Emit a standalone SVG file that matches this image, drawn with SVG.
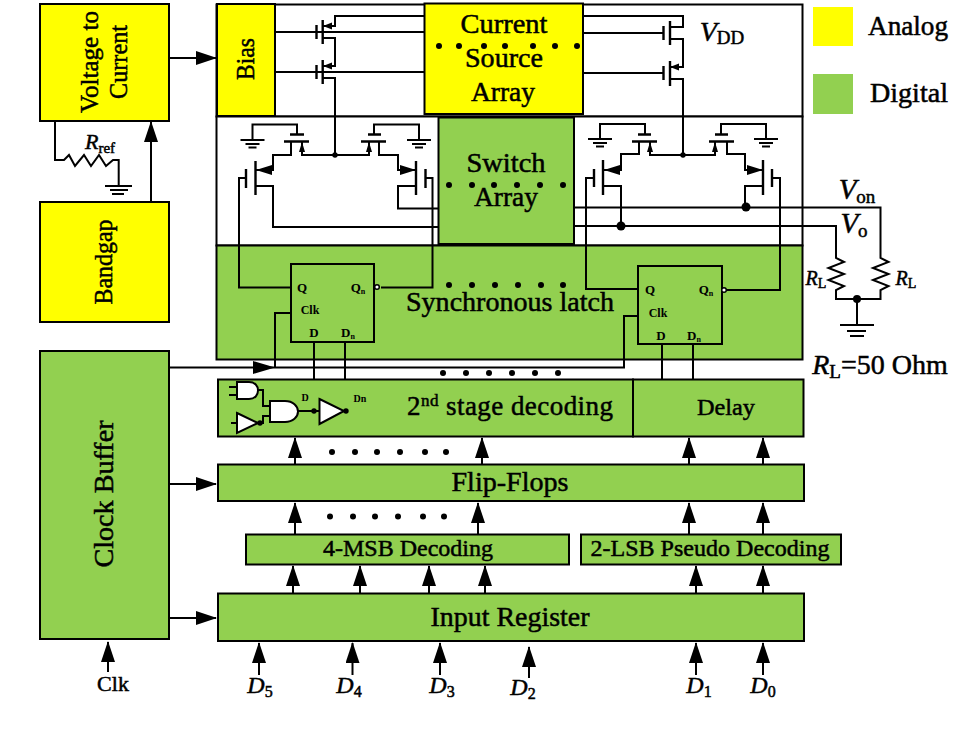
<svg xmlns="http://www.w3.org/2000/svg" width="959" height="729" viewBox="0 0 959 729">
<style>
text{font-family:"Liberation Serif","Times New Roman",serif;fill:#000;text-anchor:middle;stroke:#000;stroke-width:.5}
.b{stroke:#000;stroke-width:2}
.y{fill:#ff0}.g{fill:#92d050}.w{fill:#fff}.n{fill:none}
.l{fill:none;stroke:#000;stroke-width:2;stroke-linejoin:miter}
.t{stroke-width:2.400}
.s{font-size:13px;font-weight:bold;stroke:none}
.m{font-size:27px}
.i{font-style:italic}
</style>
<defs>
<marker id="a" markerUnits="userSpaceOnUse" markerWidth="22" markerHeight="14" refX="20" refY="7" orient="auto"><path d="M0 0L21 7L0 14Z"/></marker>
<g id="gnd"><path class="l" d="M-12 0H12M-7 4H7M-4 7.500H4"/></g>
<circle id="dot" r="2.700"/>
</defs>
<g id="legend">
<rect class="y" x="813" y="7" width="40" height="39"/>
<rect class="g" x="813" y="74" width="40" height="40"/>
<text x="908" y="35" font-size="27" textLength="80" lengthAdjust="spacingAndGlyphs">Analog</text>
<text x="909" y="102" font-size="27" textLength="78" lengthAdjust="spacingAndGlyphs">Digital</text>
</g>
<g id="panels">
<rect class="w b" x="216.500" y="4.500" width="586" height="112"/>
<rect class="w b" x="216.500" y="116.500" width="586" height="129"/>
<rect class="g b" x="216.500" y="245.500" width="586" height="114"/>
</g>
<g id="connectors">
<path class="l" d="M275 32H424M275 72H424M424 16H335V26H323M323 38H335V66H323M323 78H335V155"/>
<path class="l t" d="M316.500 25V39M322.700 20V44M316.500 65V79M322.700 60V84"/>
<path d="M323 26L332 22.500V29.500ZM323 66L332 62.500V69.500Z"/>
<path class="l" d="M583 33H663M583 73H663M583 16H683V27H670M670 39H683V67H670M670 79H683V155"/>
<path class="l t" d="M663.500 26V40M670 21V45M663.500 66V80M670 61V86"/>
<path d="M670 67L679 63.500V70.500Z"/>
<path class="l" d="M252.500 140V124.500H297V134M291 141V155H273V170H256M302 141V155H369V141M379 141V155H398V170H416M374 134V124.500H419V140"/>
<path class="l t" d="M290 134.500H304M284 141.500H309M368 134.500H381M361 141.500H386M255.500 161V195M246 169V188M416 161V195M425.500 169V188"/>
<path class="l" d="M246 178H239V287.500H291M425 178H432.500V287.500H381M255 186H273V227H438M416 186H398V208.500H438"/>
<path d="M256 170L272 165V175ZM416 170L400 165V175ZM302 142L299 152H305ZM369 142L366 152H372Z"/>
<use href="#gnd" x="252.500" y="140"/><use href="#gnd" x="419" y="140"/>
<use href="#dot" x="335" y="155"/>
<path class="l" d="M600 139V124H645V134M639 141V154H621V170H604M650 141V155H715V141M727 141V154H745V170H763M721 134V124H766V139"/>
<path class="l t" d="M638 134.500H651M632 141.500H657M715 134.500H728M709 141.500H734M603 160V195M594 169V187M763 160V195M772 169V187"/>
<path class="l" d="M594 178H586V289H638M772 178H780V290H727M603 186H621V226M763 186H745V207"/>
<path d="M604 170L620 165V175ZM763 170L747 165V175ZM650 142L647 152H653ZM715 142L712 152H718Z"/>
<use href="#gnd" x="600" y="139"/><use href="#gnd" x="766" y="139"/>
<use href="#dot" x="683" y="155"/>
<circle cx="746" cy="207" r="4.500"/><circle cx="621" cy="226" r="4.500"/>
<path class="l" d="M574 207.500H880.500V258L888.500 262L873 268L888.500 274L873 280L888.500 286L880.500 290V299H836V290L844 286L828.500 280L844 274L828.500 268L844 262L836 258V226H574"/>
<circle cx="857" cy="299" r="4"/>
<path class="l" d="M857 299V325M840 325H874M847 331H866M850 336H864"/>
<path class="l" d="M169 367.500H624V316H638M275 367.500V313H291"/>
<path d="M253 361L275 367.500L253 374Z"/>
<path class="l" d="M314 342V411M345 342V411M662 344V379M693 344V379"/>
<g class="l">
<path d="M169 58H216" marker-end="url(#a)"/>
<path d="M151 202V122" marker-end="url(#a)"/>
<path d="M169 484H216" marker-end="url(#a)"/>
<path d="M169 618H216" marker-end="url(#a)"/>
<path d="M108 672V642" marker-end="url(#a)"/>
<path d="M259 675V643" marker-end="url(#a)"/>
<path d="M352.500 675V643" marker-end="url(#a)"/>
<path d="M440 675V643" marker-end="url(#a)"/>
<path d="M529 678V647" marker-end="url(#a)"/>
<path d="M696 675V643" marker-end="url(#a)"/>
<path d="M763 675V643" marker-end="url(#a)"/>
<path d="M293 594V566" marker-end="url(#a)"/>
<path d="M360 594V566" marker-end="url(#a)"/>
<path d="M429 594V566" marker-end="url(#a)"/>
<path d="M485 594V566" marker-end="url(#a)"/>
<path d="M696 594V566" marker-end="url(#a)"/>
<path d="M763 594V566" marker-end="url(#a)"/>
<path d="M295 534V503" marker-end="url(#a)"/>
<path d="M478 534V503" marker-end="url(#a)"/>
<path d="M689 534V503" marker-end="url(#a)"/>
<path d="M763 534V503" marker-end="url(#a)"/>
<path d="M295 465V438" marker-end="url(#a)"/>
<path d="M482 465V438" marker-end="url(#a)"/>
<path d="M689 465V438" marker-end="url(#a)"/>
<path d="M763 465V438" marker-end="url(#a)"/>
</g>
<path class="l" d="M55 121V160H64L69 155L75 166L84 155L91 166L99 155L106 166L113 160H118.700V186M105 186H132M110 190H128M112 194H124"/>
<g>
<circle cx="443" cy="373" r="3"/><circle cx="466" cy="373" r="3"/><circle cx="489" cy="373" r="3"/><circle cx="512" cy="373" r="3"/><circle cx="535" cy="373" r="3"/><circle cx="558" cy="373" r="3"/>
<circle cx="332" cy="452" r="3"/><circle cx="355" cy="452" r="3"/><circle cx="377" cy="452" r="3"/><circle cx="400" cy="452" r="3"/><circle cx="425" cy="452" r="3"/><circle cx="446" cy="452" r="3"/>
<circle cx="330" cy="516.500" r="3"/><circle cx="353" cy="516.500" r="3"/><circle cx="375" cy="516.500" r="3"/><circle cx="398" cy="516.500" r="3"/><circle cx="423" cy="516.500" r="3"/><circle cx="444" cy="516.500" r="3"/>
</g>
</g>
<g id="voltage-to-current"><rect class="y b" x="40" y="4" width="129" height="117"/>
<text font-size="25" transform="translate(98 62) rotate(-90)" textLength="102" lengthAdjust="spacingAndGlyphs">Voltage to</text>
<text font-size="25" transform="translate(127 62) rotate(-90)" textLength="74" lengthAdjust="spacingAndGlyphs">Current</text></g>
<g id="bandgap"><rect class="y b" x="40" y="202" width="129" height="120"/>
<text font-size="26" transform="translate(112 262) rotate(-90)" textLength="85" lengthAdjust="spacingAndGlyphs">Bandgap</text></g>
<g id="clock-buffer"><rect class="g b" x="40" y="351" width="129" height="288"/>
<text font-size="27" transform="translate(113 494) rotate(-90)" textLength="147" lengthAdjust="spacingAndGlyphs">Clock Buffer</text></g>
<g id="bias"><rect class="y b" x="217" y="4" width="58" height="112"/>
<text font-size="25" transform="translate(254 59) rotate(-90)" textLength="42" lengthAdjust="spacingAndGlyphs">Bias</text></g>
<g id="current-source-array"><rect class="y b" x="424.500" y="3.500" width="158.500" height="110.500"/>
<text class="m" x="504" y="33" textLength="87" lengthAdjust="spacingAndGlyphs">Current</text><text class="m" x="504" y="67" textLength="78" lengthAdjust="spacingAndGlyphs">Source</text><text class="m" x="503" y="101" textLength="64" lengthAdjust="spacingAndGlyphs">Array</text>
<circle cx="439" cy="46" r="3"/><circle cx="459" cy="46" r="3"/><circle cx="484" cy="46" r="3"/><circle cx="505" cy="46" r="3"/><circle cx="533" cy="46" r="3"/><circle cx="555" cy="46" r="3"/><circle cx="577" cy="46" r="3"/></g>
<g id="switch-array"><rect class="g b" x="438.500" y="117.500" width="135.500" height="126.500"/>
<text class="m" x="506" y="172" textLength="79" lengthAdjust="spacingAndGlyphs">Switch</text><text class="m" x="506" y="206" textLength="64" lengthAdjust="spacingAndGlyphs">Array</text>
<circle cx="449" cy="185" r="3"/><circle cx="472" cy="185" r="3"/><circle cx="494" cy="185" r="3"/><circle cx="517" cy="185" r="3"/><circle cx="540" cy="185" r="3"/><circle cx="563" cy="185" r="3"/></g>
<g id="synchronous-latch"><text class="m" x="510" y="311" textLength="208" lengthAdjust="spacingAndGlyphs">Synchronous latch</text>
<circle cx="449" cy="285" r="3"/><circle cx="472" cy="285" r="3"/><circle cx="495" cy="285" r="3"/><circle cx="518" cy="285" r="3"/><circle cx="541" cy="285" r="3"/><circle cx="563" cy="285" r="3"/></g>
<g id="ff-left"><rect class="n b" x="291" y="264" width="83" height="78"/>
<circle class="w b" cx="377" cy="287" r="2.300" style="stroke-width:1.500"/>
<text class="s" x="302" y="292">Q</text><text class="s" x="358" y="292">Q<tspan font-size="8" dy="2">n</tspan></text>
<text class="s" x="310" y="314" style="font-size:12px">Clk</text><text class="s" x="314" y="337">D</text><text class="s" x="348" y="337">D<tspan font-size="8" dy="2">n</tspan></text></g>
<g id="ff-right"><rect class="n b" x="638" y="266" width="84" height="78"/>
<circle class="w b" cx="724" cy="290" r="2.300" style="stroke-width:1.500"/>
<text class="s" x="650" y="294">Q</text><text class="s" x="706" y="294">Q<tspan font-size="8" dy="2">n</tspan></text>
<text class="s" x="658" y="317" style="font-size:12px">Clk</text><text class="s" x="661" y="340">D</text><text class="s" x="694" y="340">D<tspan font-size="8" dy="2">n</tspan></text></g>
<g id="second-stage-decoding"><rect class="g b" x="218" y="379.500" width="415" height="57"/>
<path class="l" d="M229 387H238M229 395H238M258 390H263V406H270M298 411H320M231 423H238M260 423H263V416H270"/>
<path class="w b" d="M237 382H249C255 382 258 386 258 390.500C258 395 255 399 249 399H237Z"/>
<path class="w b" d="M270 401H285C293 401 298 406 298 411.500C298 417 293 422 285 422H270Z"/>
<path class="w b" d="M237 413L258 423L237 433Z"/>
<path class="w b" d="M319.500 399L344 411L319.500 424Z"/>
<use href="#dot" x="260" y="423"/><use href="#dot" x="314" y="411"/><use href="#dot" x="346" y="411"/>
<text class="s" x="305" y="401" style="font-size:10px">D</text><text class="s" x="360" y="402" style="font-size:10px">Dn</text>
<text x="510" y="415" style="font-size:27px" textLength="206" lengthAdjust="spacing">2<tspan font-size="17" dy="-9">nd</tspan><tspan dy="9"> stage decoding</tspan></text></g>
<g id="delay"><rect class="g b" x="633" y="379.500" width="170.500" height="57"/>
<text x="726" y="415" style="font-size:24px" textLength="58" lengthAdjust="spacingAndGlyphs">Delay</text></g>
<g id="flip-flops"><rect class="g b" x="218" y="464.500" width="586" height="36.500"/>
<text class="m" x="510" y="491" style="font-size:28px" textLength="117" lengthAdjust="spacingAndGlyphs">Flip-Flops</text></g>
<g id="msb"><rect class="g b" x="246" y="534.500" width="323" height="30"/>
<text x="408" y="556" style="font-size:24px" textLength="170" lengthAdjust="spacingAndGlyphs">4-MSB Decoding</text></g>
<g id="lsb"><rect class="g b" x="581" y="534.500" width="260" height="30"/>
<text x="710" y="556" style="font-size:24px" textLength="239" lengthAdjust="spacingAndGlyphs">2-LSB Pseudo Decoding</text></g>
<g id="input-register"><rect class="g b" x="218" y="593.500" width="586" height="47.500"/>
<text class="m" x="510" y="626" style="font-size:28px" textLength="159" lengthAdjust="spacingAndGlyphs">Input Register</text></g>
<g id="labels">
<text x="722" y="41" style="font-size:28px"><tspan class="i">V</tspan><tspan font-size="19" dy="3">DD</tspan></text>
<text x="857" y="199" style="font-size:29px"><tspan class="i">V</tspan><tspan font-size="19" dy="4">on</tspan></text>
<text x="854" y="233" style="font-size:29px"><tspan class="i">V</tspan><tspan font-size="19" dy="4">o</tspan></text>
<text x="816" y="285" style="font-size:20px"><tspan class="i">R</tspan><tspan font-size="14" dy="3">L</tspan></text>
<text x="906" y="285" style="font-size:20px"><tspan class="i">R</tspan><tspan font-size="14" dy="3">L</tspan></text>
<text x="880" y="374" style="font-size:28px"><tspan class="i">R</tspan><tspan font-size="19" dy="4">L</tspan><tspan dy="-4">=50 Ohm</tspan></text>
<text x="100" y="149" style="font-size:22px"><tspan class="i">R</tspan><tspan font-size="15" dy="4">ref</tspan></text>
<text x="113" y="691" style="font-size:22px">Clk</text>
<text x="260" y="693" style="font-size:24px"><tspan class="i">D</tspan><tspan font-size="16" dy="4">5</tspan></text>
<text x="349" y="693" style="font-size:24px"><tspan class="i">D</tspan><tspan font-size="16" dy="4">4</tspan></text>
<text x="442" y="693" style="font-size:24px"><tspan class="i">D</tspan><tspan font-size="16" dy="4">3</tspan></text>
<text x="523" y="695" style="font-size:24px"><tspan class="i">D</tspan><tspan font-size="16" dy="4">2</tspan></text>
<text x="699" y="693" style="font-size:24px"><tspan class="i">D</tspan><tspan font-size="16" dy="4">1</tspan></text>
<text x="763" y="693" style="font-size:24px"><tspan class="i">D</tspan><tspan font-size="16" dy="4">0</tspan></text>
</g>
</svg>
